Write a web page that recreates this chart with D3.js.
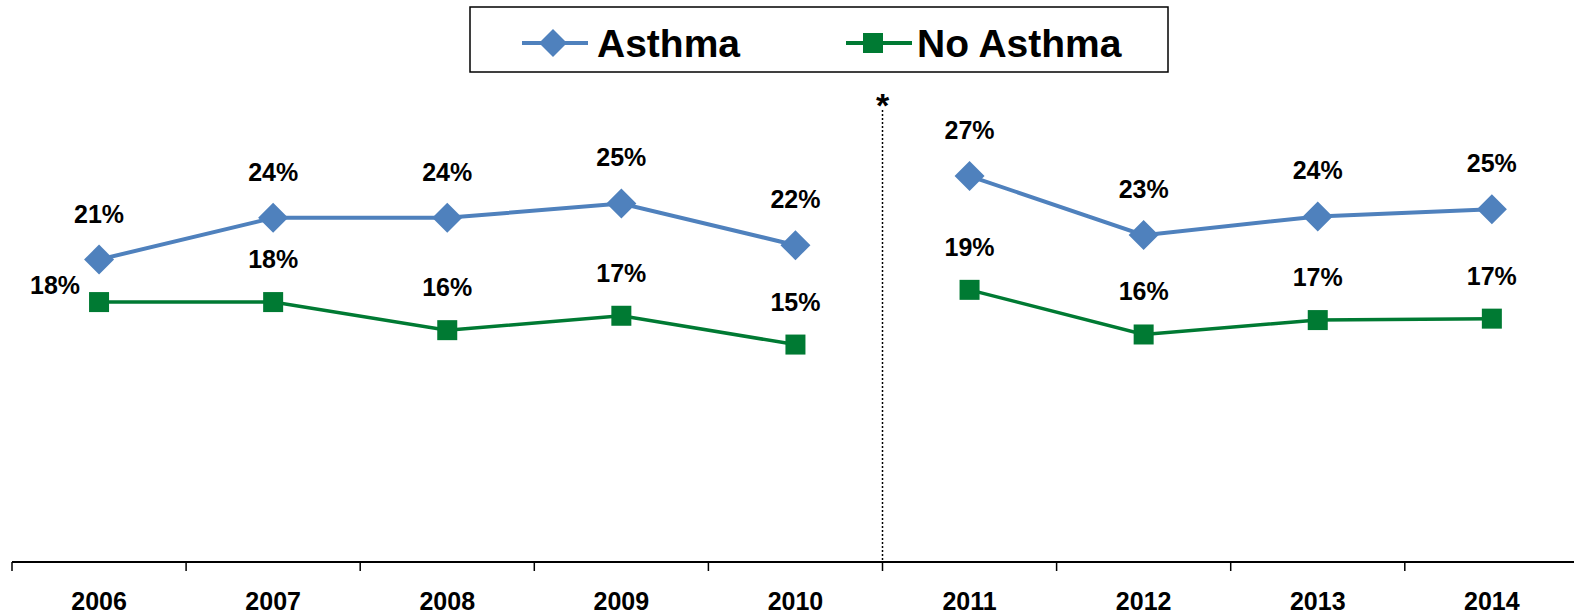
<!DOCTYPE html>
<html><head><meta charset="utf-8">
<script src="https://cdn.jsdelivr.net/npm/d3@7"></script>
<style>body{margin:0;background:#fff;} svg{display:block;font-family:"Liberation Sans",Arial,sans-serif;}</style>
</head><body><svg id="c" width="1574" height="614"></svg>
<script>
const years = ["2006","2007","2008","2009","2010","2011","2012","2013","2014"];
const asthma = [21.0, 23.9, 23.9, 24.9, 22.0, 26.8, 22.7, 24.0, 24.5];
const noAsthma = [18.05, 18.05, 16.1, 17.1, 15.1, 18.9, 15.8, 16.8, 16.9];
const asthmaLabels = ["21%","24%","24%","25%","22%","27%","23%","24%","25%"];
const noAsthmaLabels = ["18%","18%","16%","17%","15%","19%","16%","17%","17%"];
const segments = [["2006","2007","2008","2009","2010"],["2011","2012","2013","2014"]];
const breakAfter = "2010";

const svg = d3.select("#c");
const x = d3.scaleBand().domain(years).range([12, 12 + 9*174.1]).padding(0);
const y = d3.scaleLinear().domain([0, 35]).range([562, 562 - 35*14.4]);

// axis
const ax = svg.append("g").attr("transform","translate(0,562)");
ax.append("line").attr("x1",12).attr("x2",1574).attr("y1",0).attr("y2",0).attr("stroke","#000").attr("stroke-width",2);
years.forEach(yr => {
  ax.append("line").attr("x1",x(yr)).attr("x2",x(yr)).attr("y1",0).attr("y2",9).attr("stroke","#000").attr("stroke-width",1.5);
  ax.append("text").attr("x",x(yr)+x.bandwidth()/2).attr("y",48).attr("text-anchor","middle")
    .attr("font-size",25).attr("font-weight","bold").attr("fill","#000").text(yr);
});

// dotted break line
const bx = x(breakAfter) + x.bandwidth();
svg.append("line").attr("x1",bx).attr("x2",bx).attr("y1",110).attr("y2",562)
  .attr("stroke","#000").attr("stroke-width",1.5).attr("stroke-dasharray","2,2");
svg.append("text").attr("x",bx).attr("y",117).attr("text-anchor","middle").attr("font-size",34).attr("font-weight","bold").text("*");

const cx = yr => x(yr) + x.bandwidth()/2;
const line = d3.line().x(d=>cx(d.yr)).y(d=>y(d.v));

function drawSeries(vals, labels, color, width, shape) {
  const data = years.map((yr,i)=>({yr, v: vals[i], lab: labels[i]}));
  segments.forEach(seg => {
    svg.append("path").datum(data.filter(d=>seg.includes(d.yr))).attr("d", line)
      .attr("fill","none").attr("stroke",color).attr("stroke-width",width);
  });
  data.forEach(d => {
    const px = cx(d.yr), py = y(d.v);
    if (shape === "diamond") {
      svg.append("path").attr("d", `M${px},${py-15}L${px+15},${py}L${px},${py+15}L${px-15},${py}Z`).attr("fill",color);
    } else {
      svg.append("rect").attr("x",px-10).attr("y",py-10).attr("width",20).attr("height",20).attr("fill",color);
    }
  });
}
drawSeries(asthma, asthmaLabels, "#4F81BD", 4, "diamond");
drawSeries(noAsthma, noAsthmaLabels, "#007A33", 3.5, "square");

// labels
years.forEach((yr,i) => {
  svg.append("text").attr("x",cx(yr)).attr("y",y(asthma[i])-37).attr("text-anchor","middle")
    .attr("font-size",25).attr("font-weight","bold").text(asthmaLabels[i]);
  if (i === 0) {
    svg.append("text").attr("x",cx(yr)-19).attr("y",y(noAsthma[i])-8).attr("text-anchor","end")
      .attr("font-size",25).attr("font-weight","bold").text(noAsthmaLabels[i]);
  } else {
    svg.append("text").attr("x",cx(yr)).attr("y",y(noAsthma[i])-34).attr("text-anchor","middle")
      .attr("font-size",25).attr("font-weight","bold").text(noAsthmaLabels[i]);
  }
});

// legend
const lg = svg.append("g");
lg.append("rect").attr("x",470).attr("y",7).attr("width",698).attr("height",65).attr("fill","#fff").attr("stroke","#000").attr("stroke-width",1.5);
lg.append("line").attr("x1",522).attr("x2",588).attr("y1",43).attr("y2",43).attr("stroke","#4F81BD").attr("stroke-width",4);
lg.append("path").attr("d","M553,29L567,43L553,57L539,43Z").attr("fill","#4F81BD");
lg.append("text").attr("x",597).attr("y",57).attr("font-size",39).attr("font-weight","bold").text("Asthma");
lg.append("line").attr("x1",846).attr("x2",912).attr("y1",43).attr("y2",43).attr("stroke","#007A33").attr("stroke-width",4);
lg.append("rect").attr("x",863).attr("y",33).attr("width",20).attr("height",20).attr("fill","#007A33");
lg.append("text").attr("x",917).attr("y",57).attr("font-size",39).attr("font-weight","bold").text("No Asthma");
</script></body></html>
